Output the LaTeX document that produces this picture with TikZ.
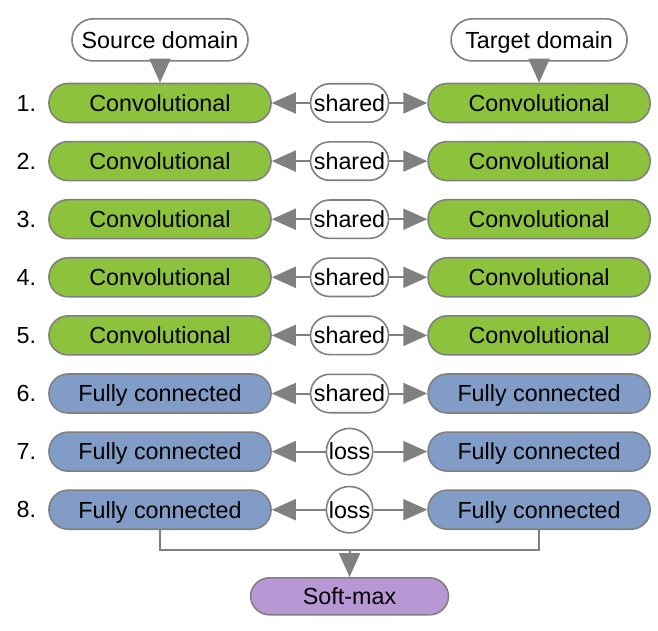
\documentclass[tikz,border=0pt]{standalone}
\usepackage{fontspec}
\setmainfont{Liberation Sans}
\usetikzlibrary{arrows.meta, calc, positioning}

\definecolor{convgreen}{HTML}{8DC33C}
\definecolor{fcblue}{HTML}{819DC7}
\definecolor{smpurple}{HTML}{B897D5}
\definecolor{edgegray}{HTML}{808080}

\begin{document}
\begin{tikzpicture}[x=1pt, y=1pt, node distance=17.5pt and 155.5pt,
        font=\fontsize{23.3}{28}\selectfont,
        box/.style={draw=edgegray, line width=1.6pt, rounded corners=19pt,
            minimum width=222pt, minimum height=39pt, inner sep=2pt,
            text height=16.7pt, text depth=0pt},
        conv/.style={box, fill=convgreen},
        fc/.style={box, fill=fcblue},
        softmax/.style={box, fill=smpurple, minimum width=198pt, minimum height=37pt},
        dom/.style={box, fill=white, minimum width=176pt, minimum height=42pt, rounded corners=21pt},
        tie/.style={draw=edgegray, line width=1.6pt, fill=white, rounded corners=19pt,
            minimum width=78pt, minimum height=38.4pt, inner sep=3pt,
            text height=16.7pt, text depth=0pt},
        lossnode/.style={draw=edgegray, line width=1.6pt, fill=white, circle,
            minimum size=46.4pt, inner sep=0pt},
        num/.style={inner sep=0pt},
        arr/.style={draw=edgegray, line width=2pt, -{Triangle[length=24pt, width=21pt]}}]
        \useasboundingbox (-160,103) rectangle (498,-528);

        % left column
        \node[conv] (l1) at (0,0) {Convolutional};
        \node[conv] (l2) [below=of l1] {Convolutional};
        \node[conv] (l3) [below=of l2] {Convolutional};
        \node[conv] (l4) [below=of l3] {Convolutional};
        \node[conv] (l5) [below=of l4] {Convolutional};
        \node[fc] (l6) [below=of l5] {Fully connected};
        \node[fc] (l7) [below=of l6] {Fully connected};
        \node[fc] (l8) [below=of l7] {Fully connected};

        % right column
        \node[conv] (r1) [right=of l1] {Convolutional};
        \node[conv] (r2) [right=of l2] {Convolutional};
        \node[conv] (r3) [right=of l3] {Convolutional};
        \node[conv] (r4) [right=of l4] {Convolutional};
        \node[conv] (r5) [right=of l5] {Convolutional};
        \node[fc] (r6) [right=of l6] {Fully connected};
        \node[fc] (r7) [right=of l7] {Fully connected};
        \node[fc] (r8) [right=of l8] {Fully connected};

        % layer numbers
        \node[num] (n1) [left=12pt of l1] {1.};
        \node[num] (n2) [left=12pt of l2] {2.};
        \node[num] (n3) [left=12pt of l3] {3.};
        \node[num] (n4) [left=12pt of l4] {4.};
        \node[num] (n5) [left=12pt of l5] {5.};
        \node[num] (n6) [left=12pt of l6] {6.};
        \node[num] (n7) [left=12pt of l7] {7.};
        \node[num] (n8) [left=12pt of l8] {8.};

        % inputs
        \node[dom] (src) [above=21pt of l1] {Source domain};
        \node[dom] (tgt) [above=21pt of r1] {Target domain};
        \draw[arr] (src) -- (l1);
        \draw[arr] (tgt) -- (r1);

        % links between the two streams
        \node[tie] (t1) at ($(l1)!.5!(r1)$) {shared};
        \node[tie] (t2) at ($(l2)!.5!(r2)$) {shared};
        \node[tie] (t3) at ($(l3)!.5!(r3)$) {shared};
        \node[tie] (t4) at ($(l4)!.5!(r4)$) {shared};
        \node[tie] (t5) at ($(l5)!.5!(r5)$) {shared};
        \node[tie] (t6) at ($(l6)!.5!(r6)$) {shared};
        \node[lossnode] (t7) at ($(l7)!.5!(r7)$) {loss};
        \node[lossnode] (t8) at ($(l8)!.5!(r8)$) {loss};

        \draw[arr] (t1) -- (l1); \draw[arr] (t1) -- (r1);
        \draw[arr] (t2) -- (l2); \draw[arr] (t2) -- (r2);
        \draw[arr] (t3) -- (l3); \draw[arr] (t3) -- (r3);
        \draw[arr] (t4) -- (l4); \draw[arr] (t4) -- (r4);
        \draw[arr] (t5) -- (l5); \draw[arr] (t5) -- (r5);
        \draw[arr] (t6) -- (l6); \draw[arr] (t6) -- (r6);
        \draw[arr] (t7) -- (l7); \draw[arr] (t7) -- (r7);
        \draw[arr] (t8) -- (l8); \draw[arr] (t8) -- (r8);

        % output
        \coordinate (jn) at ($(l8.south)!.5!(r8.south) + (0,-20)$);
        \node[softmax] (sm) [below=27pt of jn] {Soft-max};
        \draw[edgegray, line width=2pt] (l8.south) |- (jn) -| (r8.south);
        \draw[arr] (jn) -- (sm);
    \end{tikzpicture}
\end{document}
